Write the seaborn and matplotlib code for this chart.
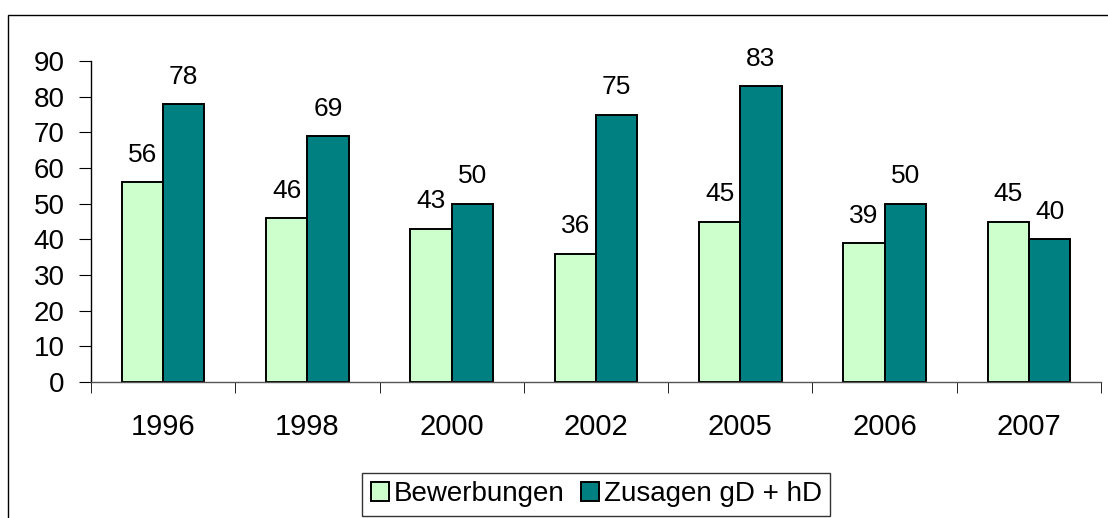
import numpy as np
import pandas as pd
import seaborn as sns
import matplotlib
matplotlib.use("Agg")
from matplotlib import pyplot as plt
from matplotlib.patches import Rectangle

years = ["1996", "1998", "2000", "2002", "2005", "2006", "2007"]
bewerbungen = [56, 46, 43, 36, 45, 39, 45]
zusagen = [78, 69, 50, 75, 83, 50, 40]
series_names = ["Bewerbungen", "Zusagen gD + hD"]
colors = ["#CCFFCC", "#008080"]

df = pd.DataFrame({
    "Jahr": years * 2,
    "Wert": bewerbungen + zusagen,
    "Serie": [series_names[0]] * len(years) + [series_names[1]] * len(years),
})

sns.set_style("white")
plt.rcParams["font.family"] = ["Liberation Sans", "DejaVu Sans"]
plt.rcParams["text.color"] = "black"
plt.rcParams["xtick.color"] = "black"
plt.rcParams["ytick.color"] = "black"

fig = plt.figure(figsize=(11.08, 5.18), dpi=100)
ax = fig.add_axes([0.0821, 0.2625, 0.9116, 0.6195])

sns.barplot(data=df, x="Jahr", y="Wert", hue="Serie", palette=colors,
            width=0.572, edgecolor="black", linewidth=1.4, ax=ax,
            saturation=1, legend=True)

for cont in ax.containers:
    ax.bar_label(cont, fontsize=19, padding=11, color="black")

ax.set_ylim(0, 90)
ax.set_xlim(-0.5, len(years) - 0.5)
ax.set_yticks(np.arange(0, 91, 10))
ax.set_xlabel("")
ax.set_ylabel("")
for s in ["top", "right"]:
    ax.spines[s].set_visible(False)
ax.spines["left"].set_color("black")
ax.spines["bottom"].set_color("#555555")
ax.spines["left"].set_linewidth(1)
ax.spines["bottom"].set_linewidth(1)

ax.tick_params(axis="y", labelsize=20, length=9, direction="out", left=True, color="black", pad=10)
ax.tick_params(axis="x", labelsize=21, length=0, pad=22)
# Excel-style boundary ticks on x axis
ax.set_xticks(np.arange(-0.5, len(years) + 0.5, 1), minor=True)
ax.tick_params(axis="x", which="minor", length=8, direction="out", bottom=True, color="black")

leg = ax.legend(loc="center", bbox_to_anchor=(0.538, 0.0454), bbox_transform=fig.transFigure,
                ncol=2, fontsize=20, frameon=True, fancybox=False, edgecolor="black",
                handlelength=0.65, handleheight=0.65, handletextpad=0.18, columnspacing=0.58,
                borderpad=0.3, borderaxespad=0)
leg.get_frame().set_linewidth(1)

fig.patches.append(Rectangle((8 / 1108, -0.1), 1.2, 1 - 15 / 518 + 0.1, transform=fig.transFigure,
                             fill=False, edgecolor="black", linewidth=1))

fig.savefig("out.png", dpi=100)
